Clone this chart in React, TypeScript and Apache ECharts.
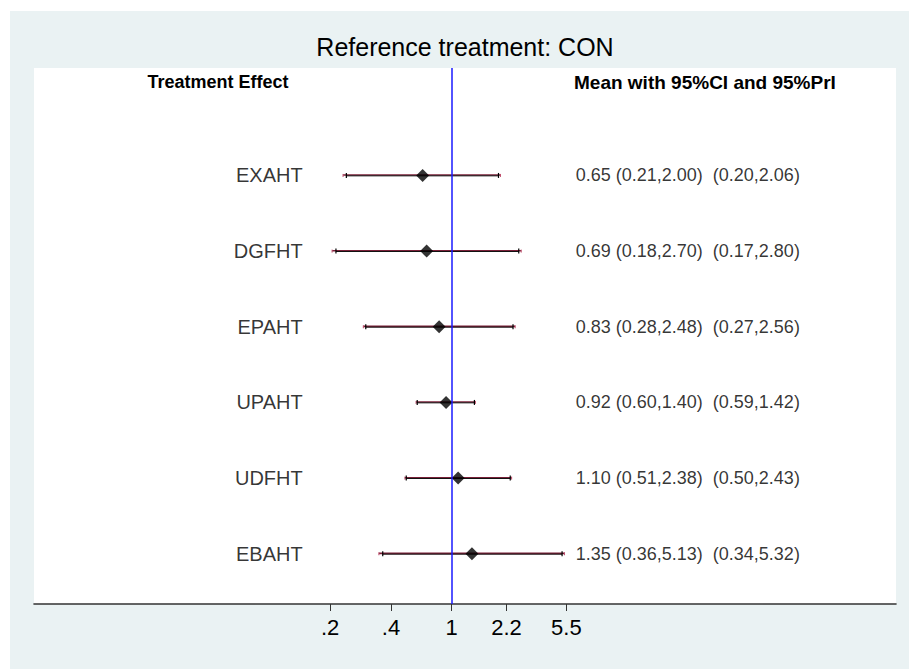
import React, { useEffect, useRef } from "react";
import * as echarts from "echarts";

// ---- data ----
const treatments = ["EXAHT", "DGFHT", "EPAHT", "UPAHT", "UDFHT", "EBAHT"];
const means = [0.65, 0.69, 0.83, 0.92, 1.1, 1.35];
const ciLow = [0.21, 0.18, 0.28, 0.6, 0.51, 0.36];
const ciHigh = [2.0, 2.7, 2.48, 1.4, 2.38, 5.13];
const priLow = [0.2, 0.17, 0.27, 0.59, 0.5, 0.34];
const priHigh = [2.06, 2.8, 2.56, 1.42, 2.43, 5.32];
const tickValues = [0.165, 0.407, 1, 2.25, 5.47];
const tickLabels = [".2", ".4", "1", "2.2", "5.5"];

const FONT = "'Liberation Sans', Arial, Helvetica, sans-serif";

export default function App() {
  const ref = useRef<HTMLDivElement>(null);

  useEffect(() => {
    if (!ref.current) return;
    const chart = echarts.init(ref.current, null, { renderer: "svg" });
    const n = treatments.length;
    const ln = Math.log;
    const yOf = (i: number) => n - i;
    const fmt = (v: number) => v.toFixed(2);

    const intervalData = treatments.map((t, i) => [
      ln(ciLow[i]),
      ln(ciHigh[i]),
      ln(priLow[i]),
      ln(priHigh[i]),
      yOf(i),
    ]);
    const meanData = treatments.map((t, i) => [ln(means[i]), yOf(i)]);
    const nameColX = -2.2; // ln-units column for the treatment names
    const textColX = 1.83; // ln-units column for the value text
    const nameData = treatments.map((t, i) => [nameColX, yOf(i), t]);
    const textData = treatments.map((t, i) => [
      textColX,
      yOf(i),
      `${fmt(means[i])} (${fmt(ciLow[i])},${fmt(ciHigh[i])})  (${fmt(priLow[i])},${fmt(priHigh[i])})`,
    ]);
    const tickLn = tickValues.map((v) => ln(v));

    const option: any = {
      animation: false,
      backgroundColor: "#ffffff",
      graphic: [
        {
          type: "rect",
          z: -10,
          silent: true,
          shape: { x: 10, y: 11, width: 899, height: 658 },
          style: { fill: "#EAF2F3" },
        },
        {
          type: "rect",
          z: -9,
          silent: true,
          shape: { x: 34, y: 68, width: 862, height: 536 },
          style: { fill: "#ffffff" },
        },
        {
          type: "text",
          x: 465,
          y: 47,
          style: {
            text: "Reference treatment: CON",
            fontFamily: FONT,
            fontSize: 25,
            fill: "#000",
            align: "center",
            verticalAlign: "middle",
          },
        },
        {
          type: "text",
          x: 218,
          y: 82,
          style: {
            text: "Treatment Effect",
            fontFamily: FONT,
            fontSize: 18,
            fontWeight: "bold",
            fill: "#000",
            align: "center",
            verticalAlign: "middle",
          },
        },
        {
          type: "text",
          x: 574,
          y: 82,
          style: {
            text: "Mean with 95%CI and 95%PrI",
            fontFamily: FONT,
            fontSize: 19,
            fontWeight: "bold",
            fill: "#000",
            align: "left",
            verticalAlign: "middle",
          },
        },
      ],
      grid: { left: 34, right: 13, top: 68, bottom: 65, containLabel: false },
      xAxis: {
        type: "value",
        min: -6.188,
        max: 6.582,
        splitLine: { show: false },
        axisLine: { show: true, lineStyle: { color: "#333333", width: 1.6 } },
        axisTick: {
          show: true,
          length: 7,
          customValues: tickLn,
          lineStyle: { color: "#333333", width: 1 },
        },
        axisLabel: {
          show: true,
          customValues: tickLn,
          margin: 12,
          fontFamily: FONT,
          fontSize: 22,
          color: "#000",
          formatter: (v: number) => {
            let best = 0;
            let bd = Infinity;
            tickLn.forEach((t, k) => {
              const d = Math.abs(t - v);
              if (d < bd) {
                bd = d;
                best = k;
              }
            });
            return tickLabels[best];
          },
        },
      },
      yAxis: {
        type: "value",
        min: 0.336,
        max: 7.42,
        show: false,
        splitLine: { show: false },
      },
      series: [
        {
          type: "custom",
          name: "intervals",
          silent: true,
          encode: { x: [0, 1, 2, 3], y: 4 },
          data: intervalData,
          z: 3,
          renderItem: (params: any, api: any) => {
            const y = api.value(4);
            const cL = api.coord([api.value(0), y]);
            const cH = api.coord([api.value(1), y]);
            const pL = api.coord([api.value(2), y]);
            const pH = api.coord([api.value(3), y]);
            const yy = cL[1];
            return {
              type: "group",
              children: [
                {
                  type: "line",
                  shape: { x1: pL[0], y1: yy - 0.4, x2: pH[0], y2: yy - 0.4 },
                  style: { stroke: "#7A2038", lineWidth: 1.6 },
                },
                {
                  type: "line",
                  shape: { x1: pL[0], y1: yy - 1.5, x2: pL[0], y2: yy + 1.5 },
                  style: { stroke: "#C0506E", lineWidth: 1 },
                },
                {
                  type: "line",
                  shape: { x1: pH[0], y1: yy - 1.5, x2: pH[0], y2: yy + 1.5 },
                  style: { stroke: "#C0506E", lineWidth: 1 },
                },
                {
                  type: "line",
                  shape: { x1: cL[0], y1: yy + 0.4, x2: cH[0], y2: yy + 0.4 },
                  style: { stroke: "#111", lineWidth: 1 },
                },
                {
                  type: "line",
                  shape: { x1: cL[0], y1: yy - 2.5, x2: cL[0], y2: yy + 2.5 },
                  style: { stroke: "#000", lineWidth: 1.2 },
                },
                {
                  type: "line",
                  shape: { x1: cH[0], y1: yy - 2.5, x2: cH[0], y2: yy + 2.5 },
                  style: { stroke: "#000", lineWidth: 1.2 },
                },
              ],
            };
          },
        },
        {
          type: "scatter",
          name: "mean",
          data: meanData,
          symbol: "diamond",
          symbolSize: [13, 13],
          itemStyle: { color: "#000" },
          z: 4,
          markLine: {
            silent: true,
            symbol: "none",
            label: { show: false },
            lineStyle: { color: "#1a1aff", width: 1.5, type: "solid" },
            data: [{ xAxis: 0 }],
          },
        },
        {
          type: "scatter",
          name: "names",
          data: nameData,
          symbolSize: 1,
          itemStyle: { color: "rgba(0,0,0,0)" },
          silent: true,
          label: {
            show: true,
            position: "left",
            distance: 0,
            fontFamily: FONT,
            fontSize: 20,
            color: "#000",
            formatter: (p: any) => p.data[2],
          },
        },
        {
          type: "scatter",
          name: "values",
          data: textData,
          symbolSize: 1,
          itemStyle: { color: "rgba(0,0,0,0)" },
          silent: true,
          label: {
            show: true,
            position: "right",
            distance: 0,
            fontFamily: FONT,
            fontSize: 18,
            color: "#000",
            formatter: (p: any) => p.data[2],
          },
        },
      ],
    };

    chart.setOption(option);
    return () => chart.dispose();
  }, []);

  return (
    <div
      ref={ref}
      style={{ position: "absolute", left: 0, top: 0, width: 909, height: 669 }}
    />
  );
}
